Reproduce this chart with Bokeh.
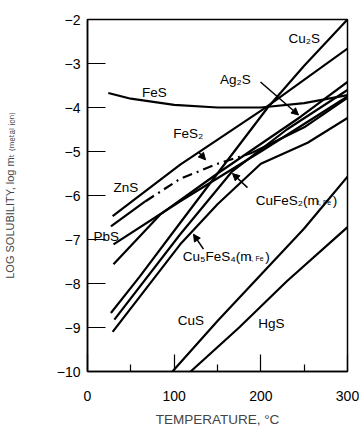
from bokeh.plotting import figure
from bokeh.models import Label, Arrow, NormalHead, FixedTicker
from bokeh.embed import file_html
from bokeh.resources import INLINE

# ---- data (temperature in C, log solubility) ----
T_FES = [24, 50, 100, 150, 200, 250, 300]
V_FES = [-3.67, -3.80, -3.94, -4.00, -4.00, -3.90, -3.72]

T_CU2S = [27, 60, 107, 150, 208, 250, 300]
V_CU2S = [-8.67, -7.85, -6.62, -5.50, -4.00, -3.05, -2.00]

T_AG2S = [30, 84, 150, 246, 300]
V_AG2S = [-7.56, -6.43, -5.50, -4.21, -3.42]

T_ZNS = [29, 107, 205, 300]
V_ZNS = [-6.47, -5.30, -4.01, -2.66]

T_FES2_A = [27, 67]
V_FES2_A = [-6.70, -6.13]
T_FES2_D = [67, 107, 150, 190]
V_FES2_D = [-6.13, -5.62, -5.28, -5.03]
T_FES2_B = [190, 250, 300]
V_FES2_B = [-5.03, -4.45, -3.78]

T_PBS = [30, 107, 200, 300]
V_PBS = [-7.11, -6.13, -5.00, -3.75]

T_CUFES2 = [31, 107, 167, 230, 300]
V_CUFES2 = [-8.82, -6.88, -5.45, -4.50, -3.60]

T_CU5FES4 = [29, 107, 150, 200, 254, 300]
V_CU5FES4 = [-9.10, -7.11, -6.20, -5.28, -4.80, -4.24]

T_CUS = [98, 150, 200, 250, 300]
V_CUS = [-10.0, -8.85, -7.80, -6.75, -5.57]

T_HGS = [119, 175, 230, 300]
V_HGS = [-10.0, -9.00, -7.95, -6.72]

X_TICKS = [0, 100, 200, 300]
X_MINOR = [50, 150, 250]
Y_TICKS = [-10, -9, -8, -7, -6, -5, -4, -3, -2]

FONT = "Liberation Sans"

p = figure(width=359, height=429, x_range=(0, 300), y_range=(-10, -2),
           output_backend="svg", toolbar_location=None,
           min_border_left=87, min_border_right=12, min_border_top=19, min_border_bottom=56)
p.grid.visible = False
p.background_fill_color = "white"
p.border_fill_color = "white"
p.outline_line_color = "black"
p.outline_line_width = 1.5

xa = p.xaxis[0]
xa.ticker = FixedTicker(ticks=X_TICKS, minor_ticks=X_MINOR)
xa.major_tick_in = 17
xa.major_tick_out = 0
xa.minor_tick_in = 7
xa.minor_tick_out = 0
xa.axis_line_width = 1.5
xa.major_tick_line_width = 1.2
xa.minor_tick_line_width = 1.2
xa.major_label_text_font = FONT
xa.major_label_text_font_size = "14px"
xa.major_label_text_color = "black"
xa.major_label_standoff = 19
xa.axis_label = "TEMPERATURE, \u00b0C"
xa.axis_label_text_font = FONT
xa.axis_label_text_font_size = "13.5px"
xa.axis_label_text_font_style = "normal"
xa.axis_label_standoff = 8

ya = p.yaxis[0]
ya.ticker = FixedTicker(ticks=Y_TICKS, minor_ticks=[])
ya.major_tick_in = 18
ya.major_tick_out = 0
ya.axis_line_width = 1.5
ya.major_tick_line_width = 1.2
ya.major_label_text_font = FONT
ya.major_label_text_font_size = "14px"
ya.major_label_text_color = "black"
ya.major_label_standoff = 7
ya.axis_label = ("LOG SOLUBILITY, log m\u209c "
                 "\u208d\u2098\u2091\u209c\u2090\u2097 \u1d62\u2092\u2099\u208e")
ya.axis_label_text_font = "'Liberation Sans', 'DejaVu Sans'"
ya.axis_label_text_font_size = "11px"
ya.axis_label_text_font_style = "normal"
ya.axis_label_standoff = 38

LW = 2.2
for tx, vy in [(T_FES, V_FES), (T_CU2S, V_CU2S), (T_AG2S, V_AG2S), (T_ZNS, V_ZNS),
               (T_FES2_A, V_FES2_A), (T_FES2_B, V_FES2_B), (T_PBS, V_PBS),
               (T_CUFES2, V_CUFES2), (T_CU5FES4, V_CU5FES4), (T_CUS, V_CUS), (T_HGS, V_HGS)]:
    p.line(tx, vy, line_color="black", line_width=LW)
p.line(T_FES2_D, V_FES2_D, line_color="black", line_width=LW, line_dash="10 5 2 5")

def lab(x, y, t, size="13.5px"):
    p.add_layout(Label(x=x, y=y, text=t, text_font=FONT, text_font_size=size,
                       text_baseline="middle", text_align="left", text_color="black"))

lab(232, -2.43, "Cu\u2082S")
lab(153, -3.36, "Ag\u2082S")
lab(63, -3.65, "FeS")
lab(99, -4.58, "FeS\u2082")
lab(30, -5.82, "ZnS")
lab(7, -6.93, "PbS")
lab(194, -6.11, "CuFeS\u2082(m")
lab(265, -6.17, "t, Fe", size="7px")
lab(283, -6.11, ")")
lab(110, -7.38, "Cu\u2085FeS\u2084(m")
lab(187, -7.44, "t, Fe", size="7px")
lab(205, -7.38, ")")
lab(104, -8.85, "CuS")
lab(197, -8.90, "HgS")

for (x0, y0, x1, y1) in [(199.6, -3.42, 243.5, -4.17), (128.1, -5.01, 136.2, -5.19),
                         (184.6, -5.82, 167.3, -5.50), (133.8, -7.22, 122.3, -6.88)]:
    p.add_layout(Arrow(x_start=x0, y_start=y0, x_end=x1, y_end=y1, line_width=1.5,
                       end=NormalHead(size=7, fill_color="black", line_color="black")))

open("out.html", "w").write(file_html(p, INLINE))
